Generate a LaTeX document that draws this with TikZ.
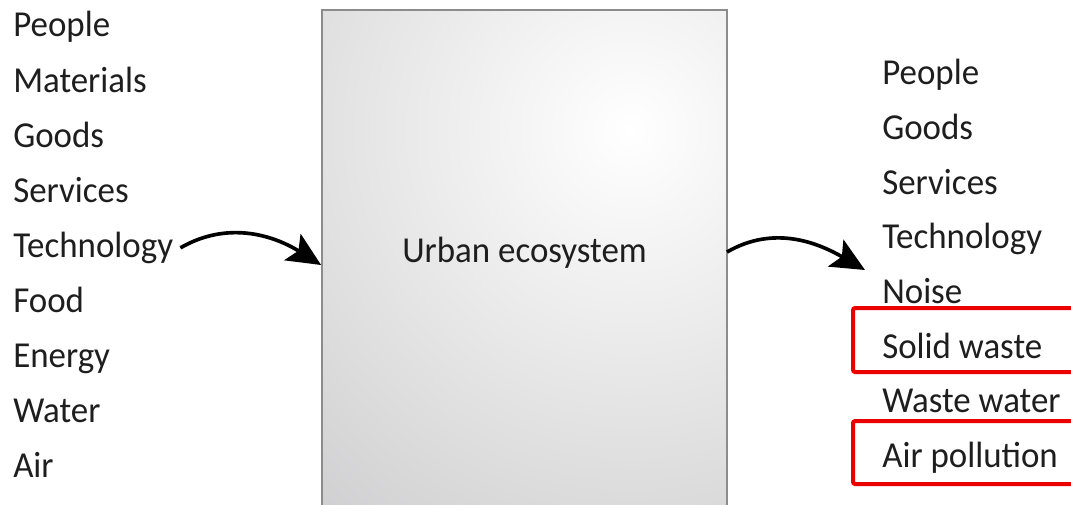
\documentclass[tikz,border=0pt]{standalone}
\usepackage{fontspec}
\setmainfont{Carlito}[FakeStretch=0.955]
\usetikzlibrary{arrows.meta,calc}
\definecolor{ink}{RGB}{30, 30, 30}
\definecolor{boxgray}{RGB}{186, 186, 188}
\definecolor{boxedge}{RGB}{140, 140, 140}
\definecolor{markred}{RGB}{235, 0, 0}
\tikzstyle{item} = [
    anchor=base west,
    inner sep=0pt,
    text=ink,
    font=\fontsize{26}{30}\selectfont
]
\tikzstyle{flow} = [
    line width=2.6pt,
    -{Stealth[length=24pt, width=22pt, inset=5pt]},
    draw=black
]
\tikzstyle{ecobox} = [
    rectangle,
    draw=boxedge,
    line width=1.2pt,
    minimum width=10.125cm,
    minimum height=12.75cm,
    path picture={
        \shade[inner color=white, outer color=boxgray]
            ($(path picture bounding box.north west)+(308,120)$) circle (720);
    }
]
\tikzstyle{hilite} = [
    draw=markred,
    line width=0.1cm,
    rounded corners=1.5pt
]
\begin{document}
\begin{tikzpicture}[x=0.025cm, y=-0.025cm]
    \useasboundingbox (0,0) rectangle (1071,505);

    % the city as a box
    \node[ecobox] (eco) at (524.5,265) {};
    \node[item, anchor=base] (ecolbl) at (524.5,262) {Urban ecosystem};

    % what goes in
    \foreach \txt [count=\i] in {People, Materials, Goods, Services, Technology, Food, Energy, Water, Air}
        \node[item] (in\i) at (13,{37+55.1*(\i-1)}) {\txt};

    % what comes out
    \foreach \txt [count=\i] in {People, Goods, Services, Technology, Noise, Solid waste, Waste water, Air pollution}
        \node[item] (out\i) at (882,{85+54.6*(\i-1)}) {\txt};

    \coordinate (outstart) at (727,252);
    \coordinate (outtip) at (865,270);

    \draw[flow] ([xshift=5pt]in5.east) to[out=30, in=148] (eco.west);
    \draw[flow] (outstart) to[out=30, in=150] (outtip);

    % highlighted outputs
    \draw[hilite] (853,308) rectangle (1100,372);
    \draw[hilite] (853,421) rectangle (1100,484);
\end{tikzpicture}
\end{document}
